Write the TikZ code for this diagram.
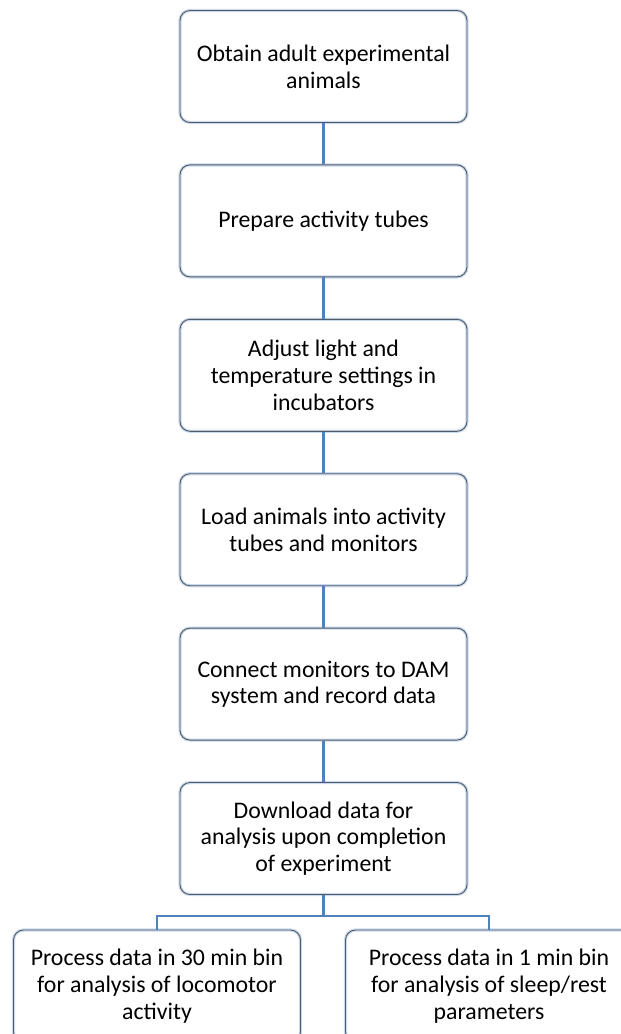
\documentclass[tikz,border=0pt]{standalone}
\usepackage{fontspec}
\setmainfont{Carlito}
\usetikzlibrary{positioning}

\definecolor{linkblue}{RGB}{79,129,189}
\definecolor{glowblue}{RGB}{200,218,238}
\definecolor{edgegray}{RGB}{85,90,98}

\tikzset{
  stepbox/.style={rectangle, rounded corners=10pt, draw=edgegray, line width=0.9pt,
    preaction={draw=glowblue, line width=3.2pt},
    minimum width=287pt, minimum height=112pt, inner sep=0pt, align=center,
    font=\fontsize{23.8}{26.7}\selectfont},
  link/.style={draw=linkblue, line width=2.4pt}
}

\begin{document}
\begin{tikzpicture}[node distance=41.5pt]

% Page frame (right and bottom boxes run off the edge)
\useasboundingbox (0,0) rectangle (621pt,-1034pt);
\clip (0,0) rectangle (621pt,-1034pt);

% Main chain of steps
\node[stepbox] (obtain) at (323.5pt,-66.5pt) {Obtain adult experimental\\animals};
\node[stepbox, below=of obtain] (tubes) {Prepare activity tubes};
\node[stepbox, below=of tubes] (adjust) {Adjust light and\\temperature settings in\\incubators};
\node[stepbox, below=of adjust] (load) {Load animals into activity\\tubes and monitors};
\node[stepbox, below=of load] (connect) {Connect monitors to DAM\\system and record data};
\node[stepbox, below=of connect] (download) {Download data for\\analysis upon completion\\of experiment};

% Two processing branches
\node[stepbox] (proc30) at (157pt,-986pt) {Process data in 30 min bin\\for analysis of locomotor\\activity};
\node[stepbox] (proc1) at (489pt,-986pt) {Process data in 1 min bin\\for analysis of sleep/rest\\parameters};

% Connectors
\draw[link] (obtain) -- (tubes);
\draw[link] (tubes) -- (adjust);
\draw[link] (adjust) -- (load);
\draw[link] (load) -- (connect);
\draw[link] (connect) -- (download);
\draw[link] (download.south) -- ++(0,-21pt) coordinate (split) -| (proc30.north);
\draw[link] (split) -| (proc1.north);

\end{tikzpicture}
\end{document}
